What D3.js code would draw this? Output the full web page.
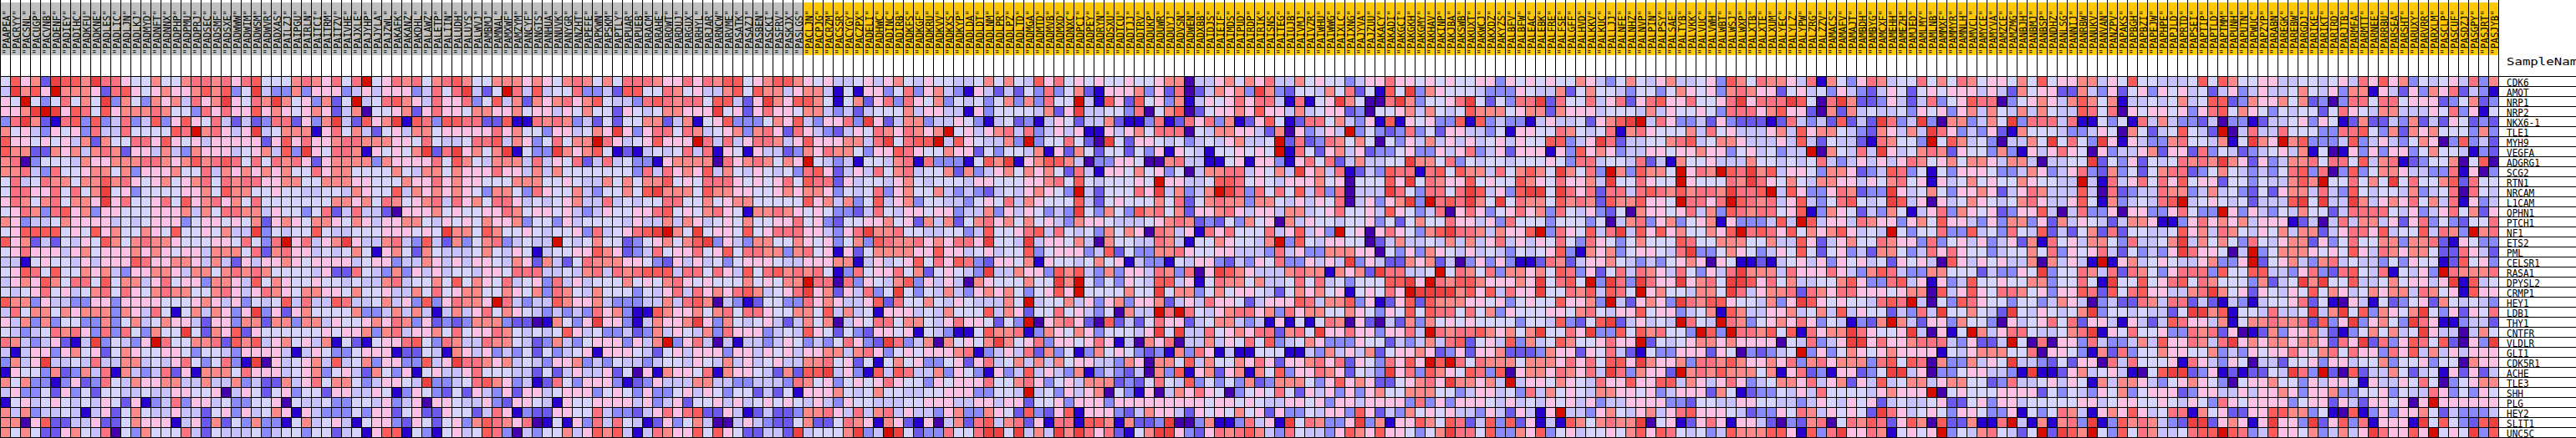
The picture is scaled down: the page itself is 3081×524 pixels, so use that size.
<!DOCTYPE html>
<html>
<head>
<meta charset="utf-8">
<script src="https://d3js.org/d3.v7.min.js"></script>
<style>html,body{margin:0;padding:0;background:#fff}svg{display:block}</style>
</head>
<body>
<div id="chart"></div>
<script>
const genes = ["CDK6","AMOT","NRP1","NRP2","NKX6-1","TLE1","MYH9","VEGFA","ADGRG1","SCG2","RTN1","NRCAM","L1CAM","OPHN1","PTCH1","NF1","ETS2","PML","CELSR1","RASA1","DPYSL2","CRMP1","HEY1","LDB1","THY1","CNTFR","VLDLR","GLI1","CDK5R1","ACHE","TLE3","SHH","PLG","HEY2","SLIT1","UNC5C"];
const samplesGray = ["PAAPEA","PACRYY","PACSNL","PACUGP","PACVNB","PADENF","PADIEY","PADIHC","PADKFU","PADKNE","PADLES","PADLIC","PADLJN","PADLKJ","PADMYD","PADNFT","PADNNX","PADPHP","PADPMU","PADPRJ","PADSEC","PADSMF","PADSXE","PADWWW","PADWIM","PADWSM","PADWVR","PADXAS","PAILZJ","PAIPGU","PAIRLN",
"PAITCI","PAITRM","PAITZV","PAIVHE","PAJXLE","PAJYHP","PAJYLA","PAJZWL","PAKAFK","PAKANZ","PAKDHL","PALAWZ","PALETP","PALIIN","PALUDH","PALUYS","PALWVJ","PAMBMJ","PAMNAL","PAMXWF","PAMZYM","PANCYF","PANGTS","PANHUA","PANUVK","PANYGR","PANZHT","PAPEFE","PAPKWN","PAPSKM","PAPTLY",
"PAPUAR","PAPUEB","PARACM","PARAHE","PAROWT","PARDUJ","PARGUX","PARHYL","PARJAR","PARNCW","PARVME","PASATK","PASAZJ","PASBEN","PASCKI","PASFRV","PASKJX","PASLGS"];
const samplesGold = ["PACLJN","PACPJG","PACRZM","PACSSR","PACYGY","PACZPX","PADELI","PADHWC","PADINC","PADIRB","PADKFS","PADKGF","PADKRU",
"PADKVV","PADKXS","PADKYP","PADLDA","PADLDT","PADLNM","PADLPR","PADLPZ","PADLTD","PADMGA","PADMTD","PADMVB","PADMXD","PADNXC","PADPCI","PADPEY","PADRYN","PADSXU","PADTCU","PADTJJ","PADTRV","PADUKP","PADUWR","PADUYJ","PADVSN","PADWEN","PADXBB","PAIDJS","PAIEIF","PAIMDS","PAIPUD",
"PAIRDP","PAIRIK","PAISNS","PAITEG","PAIUJB","PAIVMJ","PAIVZR","PAIWHU","PAIWWG","PAIXLC","PAIXNG","PAJYVA","PAJZUU","PAKACY","PAKADI","PAKGCI","PAKGKH","PAKGMY","PAKHAV","PAKINP","PAKJBA","PAKSWB","PAKUXT","PAKWCJ","PAKXDZ","PAKYZS","PALBFV","PALBFW","PALEAC","PALEBK","PALFRE",
"PALFSE","PALGFF","PALHVD","PALKKV","PALKUC","PALLJJ","PALNFE","PALNHZ","PALNVP","PALPIN","PALPSY","PALSAE","PALTYB","PALVKK","PALVUC","PALVWH","PALWBT","PALWSJ","PALWXP","PALXTB","PALXTE","PALXUM","PALYEC","PALYLZ","PALYPW","PALZRG","PALZZV","PAMACS","PAMAFV","PAMAJT","PAMBDH",
"PAMBYG","PAMCXF","PAMEHH","PAMEZH","PAMJED","PAMLMY","PAMLNB","PAMMXF","PAMMYR","PAMNLH","PAMVCL","PAMYCE","PAMYVA","PAMZCE","PAMZMG","PANBJH","PANBMJ","PANBSP","PANDHZ","PANLSG","PANNIJ","PANRBW","PANUKV","PANVAN","PANZPV","PAPAKS","PAPBGH","PAPBZI","PAPEJW","PAPHPE","PAPJLD",
"PAPRTD","PAPSEI","PAPTIP","PAPTLD","PAPTMM","PAPUNH","PAPUTN","PAPWUC","PAPZYP","PARABN","PAREGK","PAREBW","PARGDJ","PARIKE","PARIKT","PARIRD","PARJTB","PARMFA","PARMTT","PARNEE","PARRBU","PARSEA","PARSHT","PARUXY","PARVRR","PARXLM","PASCLP","PASCUF","PASDZJ","PASGPY","PASJRT","PASJYB"];
const palette = ["#4500ad","#2700d1","#6b58ef","#8888ff","#c7c1ff","#d5d5ff","#ffc0e5","#ff8989","#ff7080","#ff5a5a","#ef4040","#d60c00"];
// heat levels per gene row, base-12 digits (0 = deep blue ... b = deep red), one block per stretch of samples
const levels1 = ["59672a997a 8865575578 8786895557 8","4a796b7776 2896567667 97935a4337 3","65b5358575 a375376748 67a6587a75 6","667aba6985 9677787553 8686696765 6","38a7218939 3483493696 5842423882 6","7564365638 448555598b 78646a4577 7","9665656472 7558869656 4666662696 8","9772276747 8726647437 6664567493 a","7803555476 6777887679 7898585878 6","7784385567 7573666755 8476767675 5","5845877577 9786567567 8587886677 5","5886685857 a563555566 7597755655 4","6875785776 a685568596 7867585555 5","5687389673 6655566674 7588774655 3","7634457666 6454566635 6656572676 5","5699995659 6755765955 65744a3545 5","9672425465 9757877655 56658538b6 8","5686664675 6667676566 4777582786 6","4415655464 6669866776 4742646676 5","5698595576 7436677647 7578787555 5","4676975885 9577468566 3776495765 5","5456856457 8586578775 5786468765 7","9773644336 6366665556 7646354594 8","4857757677 7376485157 47636a3626 7","6473735533 7357457664 2663772773 7","5434587863 83853755a5 2769265555 5","874346214a 35436b8557 7829794675 6","4146636756 2576556653 5543666641 4","3746a44548 4477454685 35831a0645 6","1655372374 8174348261 7775866645 6","7573313623 8547667744 7447342274 6","4633526352 5544544665 5604652563 5","1564565454 6526134836 6453355605 4","7473445414 6257544644 2563645761 6","7706922446 2257666146 2725373315 7","7575226754 8053755584 2544453455 3"];
const levels2 = ["76858b5687 8578975577 7676578757 5","6663464666 34858a425b 8494558334 2","3725b45897 6486683594 7276786795 4","7624705567 2686657766 7566465755 2","37a42967a1 9839988229 1187873425 2","1685742564 7756666686 7553664576 a","6678877766 5854458894 76358577b8 6","6588716565 7a28a6757a 1533a76795 1","2677773766 6685975477 7484658248 4","8677555575 4775766686 6474755555 5","5777665557 6686766555 7775565447 5","4554765594 7676765377 5386557435 5","5577675875 6784867588 6454567448 4","5824844206 6675655668 7566564346 5","7765764667 7546565766 7355364555 5","9544555666 565a775975 5654556384 5","467a644784 3942735783 4544b54575 5","4545751675 2754445754 6514556697 6","6666456634 4764646654 7627425877 7","4622854373 6464554665 8884454784 8","6554544784 5575957658 4563846455 5","7665755644 7585677557 6573875475 5","4498445746 39368776b8 4344976674 3","5555733474 7414746857 6543434386 7","7465567687 3623237773 22017536a6 6","5656673784 6675856687 5454596453 3","4715215668 9538744877 5423743566 6","6533566612 2541764634 3525345616 6","7494573663 3946a88767 4543667343 5","7356427536 1564468555 4425246446 2","8577534665 4a33458976 3412853666 3","5266446513 6532526436 2664566635 6","4533554634 6066544632 6654165566 6","4333536625 6226552486 1322665584 3","4564156632 6525637987 6801516384 8","5524516991 5315645983 0435574697 9"];
const levels3 = ["8887668687 9956799765 6445646754 6","9955875644 7959774677 4151663583 6","4389878859 9426a76997 5157268386 5","654577666a 5626866577 4342455574 6","5577247156 9333576943 6683a62477 3","6368858745 6737862864 3246587687 6","4569666b84 8468874696 667748a589 9","2145458481 6516442376 8775366986 5","5331677770 86787576b5 4341554781 8","5384867694 7546545389 6246485784 5","7577956588 8656568598 8264554675 4","759a777597 7665567677 6354583675 5","5455885575 6775555596 7473594673 5","5668956578 6517787656 5332485466 5","4644747645 6575566856 3255667562 7","689ab75a56 6595688866 4368a77855 4","23567579a3 6437755765 6357398778 6","2348566856 9588773785 6162577776 6","6653264645 3566654466 6771464569 5","7899948858 6495897878 5138566857 2","7565786565 55756577b8 8083654793 6","5354684867 68974568a6 7264835a53 5","3344748970 4312553386 7644692855 7","3119766757 8588655775 9474516664 5","3147667a63 7545642475 7046588577 5","4237465473 8666345496 5253266561 5","3647b36840 4144346534 358632a834 7","6542564666 3664656466 7747863565 6","4434554654 7464564477 8562515756 3","5061766581 7665427299 a463194984 4","1236444774 4334443875 6356568655 3","5363356465 3552425166 6754575544 5","6463462556 4645656546 4365544455 6","3246868922 6412422377 8648478464 4","5412635740 0464322572 2587617621 6","4148766959 6522442a45 557a34ba52 3"];
const levels4 = ["5544575754 9685656556 5567704467 5","7431642425 3835721666 7362802476 7","7354535737 3855b41962 9563714656 8","6441635555 4726a44553 8057902566 7","4465314523 1465244721 1381286837 1","7b56467848 3464611646 7588805477 6","b49654473b 3558520a52 6654534546 7","5766253554 7162752552 5361654155 6","3331597a16 7997403366 5007844115 6","5727346757 6752841665 7563504778 8","5554665556 6785954555 65b6644599 8","7434324546 7653b42555 86a47347ba 8","5443565847 6555942565 5575825787 7","6634473646 5343a53753 9785726678 6","4725786757 5643766544 4567872325 3","4553495568 9485453757 6087461868 5","76886a554a 4665740755 4487415576 5","9664564559 3566634925 3377865566 4","8698326657 1655457561 4331546632 4","56543a4476 6397943736 64873806a9 7","4640765557 55a7b53536 5499461587 7","4743676753 5696b55557 55a5773575 6","546544475b 4557463673 6672464866 5","4755594762 5585643507 44b8b85467 8","468665253b 0678620924 2586624577 4","4311597781 3765763555 46a5a44856 7","075657a756 8366568614 0768044746 5","6678134648 2735137565 3231738614 1","3562684574 7475664437 6077594755 7","7365316349 4643713432 4073916726 7","6566685578 6356477723 2585493535 3","566633554b 4536467053 1604768650 3","6644664662 5563666366 6666666566 5","3673376529 3269166632 4766426565 7","0472894782 6188199717 223a003711 3","38558aa5a4 74a7a86821 57aa632687 8"];
const levels5 = ["7684475655 3466866565 6556636565 6","3a73255475 825195a376 5554333654 4","688418156a 75008a7355 68a525388a 2","6966474566 2305567475 4597775677 2","2695128857 4361916563 3919343314 6","6427063464 b353238352 6644351665 5","445b282387 5750536474 6464564655 9","565b185267 4623356336 4683462666 1","1663168582 474455a775 8354554555 6","46574a6748 1243988189 5977485797 5","5654666756 055596a587 6695655976 5","3858594838 0444a85388 58a94639aa 5","3775464658 046367a3b8 98a75a5877 5","4664774568 5564965348 0686356867 3","7560746554 5563525755 8664638555 3","558469463b 5606865379 a88747669b 3","547b395466 5502474454 7474684646 5","4438463377 7660536376 5464543545 6","3658336464 a364227672 4036363112 8","6444787717 672a88445b 5875837767 5","5744585845 355599a6b8 799766676a 5","6542576756 156586baaa a79694866a 5","2466698477 9361269297 7766563565 5","8673867755 7653659598 8585736555 6","3416151587 0620427375 6565555355 4","6882785a66 86636684b8 788976757a 5","8593457633 3655243474 8925649374 5","1555114374 6472566762 3626672223 7","6862667868 26538696b9 b858777577 7","1759366876 2543a68397 6598390677 6","7237775369 6762256786 a77674b466 5","5658526463 6367557775 5346645384 7","6544665636 6466663836 3666546454 6","5626335466 3962437565 6443642641 6","8461a58733 6a37166975 9824939261 4","9743854436 9769665357 a885933769 3"];
const levels6 = ["5576435754 6744563975 8776481753 6","7257554355 3576563787 6625645364 3","8558468268 96685568a6 888a9508a7 2","7666455547 4655653888 6796620727 4","4452679ab4 8633426322 2128434292 4","8754581786 5557485644 4674967754 3","9346a82445 5789457764 4464942544 2","6396763446 6566766356 45344b0754 8","5388455482 4175564447 5545458434 6","a7583b7397 75b687b98a 7946653776 2","86674a5586 55b655587a 8657547766 4","a868288489 8797887a88 9b49633687 2","9787297796 65b8868b98 7846943589 5","8546325076 6568473987 8856913765 2","5553504783 6735671633 3494b94664 8","865948a496 96755769b8 9869576796 4","8538653575 5598557775 5744962467 5","9317673566 548a335765 3465952563 4","7246675434 3567606511 2145646365 6","9836258487 64853648a7 7748666864 3","895b3a83a8 66a6785aa9 6857445579 6","58794985b6 7554775a84 6778287688 6","96673b4267 63a8799655 4736a96565 5","6578546695 6634571974 4667457494 6","93259a2464 54b854b873 5676863541 3","586a339597 8553b93b88 795918677a 8","97556866b2 5456776766 660548346a a","6626584215 3366626503 2345b36357 6","68685996a7 6673887976 6768378677 7","87684a8376 62b7879777 5716823166 2","7654866966 9947646863 4577684672 6","5654776656 3466627512 3354648555 5","5646344666 6332554466 5544346546 5","b443675467 4689666542 3365874656 5","19757877a0 5612686166 4203278058 7","5645565796 9854534977 79961938a6 6"];
const levels7 = ["8745585758 7566575956 6774659554 4","2465256566 6464275662 2743625636 5","2364248356 9880356764 7975714454 5","5445365636 7475474754 4985806566 5","2a834a3077 3475a38884 8115351847 4","276474a863 4362175554 3346507524 5","187553b597 45304475a5 853a616433 7","4a64578726 5537316468 6506344672 6","4646875675 7764774044 55a2536254 5","3498351536 6653347634 6832735257 8","6578561645 7565576554 4b41846858 6","33a6457536 6762468744 4940823448 7","45a9460645 7654578644 6951734548 9","4375146837 6562366940 4833606633 6","7663675966 4363773627 4654247761 1","54b5355833 9453854924 2572825544 5","5876638356 4634627185 6477538445 7","2775348686 5534557583 6568425343 6","4526564096 4656447074 641b167456 5","7984337755 5243365a35 5874828753 6","3389461634 9556557735 5851a55956 8","6656770946 9658875636 6982958966 4","4898b40539 8655355347 6403422874 8","5524384a55 7542a54654 57a3554544 2","27b7426637 5530645685 8266416424 9","6556a40615 b746885445 78a1658556 3","6866788843 6224b50806 6384334749 6","5676666154 6777558066 5317283557 6","3895980733 7465a44325 2660848555 6","35aa460335 664431a112 6745641059 a","4945774677 5523844564 6517477643 5","467666b056 5556666253 5436573566 6","6245445622 5636645555 5664566556 5","2a86456536 6533615358 7416769645 8","9826970922 7118b41717 83a1397874 3","8715656b35 4785425b2a 97b5395874 4"];
const levels8 = ["4595975566 4455456486 9673545648 37","6452463464 4575463771 6426376824 31","7459923766 7572303885 8856662357 23","6368957653 5455258654 7744465836 15","3324033124 4563651272 2437242652 32","9542b04844 8555338895 3727675553 73","8554715a76 b793334934 6435760393 42","6283542345 6471501636 3663575541 32","8787a76263 4778588594 7812355705 90","8235754343 5893803935 7764433816 03","9566255354 4797b55857 5a58557928 55","7347453252 6774843954 5547345808 54","b456545244 49a5a44a74 6768574816 34","8533b63643 5475524888 8546346857 26","3686767466 6124048477 4626835325 58","9674875465 7477246886 945594873b 78","a475753854 6772635855 7737782165 33","a866504b35 7776565964 8767752286 42","4467336b25 6743784544 3536551295 63","8883955994 4368328954 815463b877 78","9587555372 45a7a55944 5756646a19 45","478a756265 4659576457 6774875619 66","8242143145 5682510641 5235627545 43","5aa7915548 445a47a593 7657a53626 58","8664715778 7782936a36 753a861134 42","3878260127 3667421357 5745a64404 75","68748a6767 76776286a2 8369859206 3a","6557343656 6865785866 3869474646 66","1864365044 2556366455 7355635507 66","a236121225 4a83b20924 4752451626 24","6765305667 5536466516 4465850356 77","2366446466 7636673355 6354486353 65","4653865666 6356626426 65606b6666 66","8175622669 9773510913 6366752433 34","2aa267616a 663a269381 6661a59532 9a","5899b98349 665734746a 86696b565a 39"];

const W = 3081, H = 524, gridRight = 2988, gridTop = 91, gridBottom = 523;
const samples = samplesGray.concat(samplesGold);
const blocks = [levels1,levels2,levels3,levels4,levels5,levels6,levels7,levels8];
const rows = genes.map((g,i) => blocks.map(b => b[i]).join("").replace(/\s/g,""));
rows.forEach((r,i)=>{ if(r.length!==samples.length) console.warn("row",i,r.length); });

const x = d3.scaleBand().domain(samples).range([0, gridRight]);
const y = d3.scaleBand().domain(genes).range([gridTop, gridBottom]);
const color = d3.scaleOrdinal().domain(d3.range(12)).range(palette);
const bandColor = d3.scaleOrdinal().domain(["gray","gold"]).range(["#c0c0c0","#ffc800"]);
const isGray = new Set(samplesGray);

const svg = d3.select("#chart").append("svg").attr("width",W).attr("height",H).attr("viewBox",[0,0,W,H]);
svg.append("rect").attr("width",W).attr("height",H).attr("fill","#fff");

// class band
svg.append("g").selectAll("rect").data(samples).join("rect")
  .attr("x",d=>x(d)).attr("y",3).attr("width",x.bandwidth()).attr("height",63)
  .attr("fill",d=>bandColor(isGray.has(d)?"gray":"gold"));

// heat cells
const cells = [];
genes.forEach((g,i)=>samples.forEach((s,j)=>cells.push({g,s,v:parseInt(rows[i][j],16)})));
svg.append("g").attr("shape-rendering","crispEdges").selectAll("rect").data(cells).join("rect")
  .attr("x",d=>x(d.s)).attr("y",d=>y(d.g)).attr("width",x.bandwidth()).attr("height",y.bandwidth())
  .attr("fill",d=>color(d.v));

// grid
const grid = svg.append("g").attr("stroke","#000").attr("stroke-width",1).attr("shape-rendering","crispEdges");
grid.selectAll("line.v").data(samples).join("line").attr("class","v")
  .attr("x1",d=>x(d)+.5).attr("x2",d=>x(d)+.5).attr("y1",0).attr("y2",gridBottom+1);
grid.append("line").attr("x1",gridRight+.5).attr("x2",gridRight+.5).attr("y1",0).attr("y2",gridBottom+1);
grid.selectAll("line.h").data(genes).join("line").attr("class","h")
  .attr("x1",0).attr("x2",W).attr("y1",d=>y(d)+.5).attr("y2",d=>y(d)+.5);
grid.append("line").attr("x1",0).attr("x2",W).attr("y1",gridBottom+.5).attr("y2",gridBottom+.5);

const font = "'DejaVu Sans Mono', monospace";
// sample names
svg.append("g").selectAll("text").data(samples).join("text")
  .attr("transform",d=>`translate(${x(d)+12},65) rotate(-90) scale(0.85,1)`)
  .attr("font-family",font).attr("font-size",13).attr("fill","#000")
  .text(d=>`"${d}"`);
// gene names
svg.append("g").selectAll("text").data(genes).join("text")
  .attr("transform",d=>`translate(2998,${y(d)+y.bandwidth()}) scale(0.85,1)`)
  .attr("font-family",font).attr("font-size",13).attr("fill","#000")
  .text(d=>d);
svg.append("text").attr("transform","translate(2998,78) scale(1.21,1)")
  .attr("font-family",font).attr("font-size",13).attr("fill","#000").text("SampleName");
</script>
</body>
</html>
